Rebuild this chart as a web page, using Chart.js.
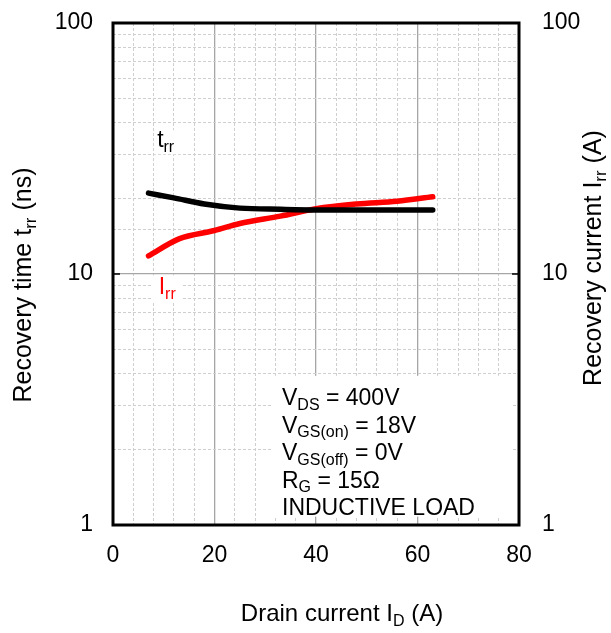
<!DOCTYPE html>
<html>
<head>
<meta charset="utf-8">
<script src="https://cdn.jsdelivr.net/npm/chart.js@4"></script>
<style>
  html, body { margin: 0; padding: 0; background: #fff; }
  canvas { display: block; }
</style>
</head>
<body>
<canvas id="chart" width="611" height="633"></canvas>
<script>
// values
var trrCurrent = [7, 12, 18, 25, 33, 40, 50, 63]          // A
var trrValues = [21, 20.1, 19, 18.3, 18.1, 18, 18, 18]     // ns
var irrCurrent = [7, 13, 20, 25, 33, 40, 48, 56, 63]      // A
var irrValues = [11.8, 13.8, 14.9, 15.9, 17, 18.2, 19, 19.5, 20.3]  // A
var xTicks = [0, 20, 40, 60, 80]
var yTicks = [1, 10, 100]

// test conditions: [text, subscript, text]
var conditions = [
  ['V', 'DS', ' = 400V'],
  ['V', 'GS(on)', ' = 18V'],
  ['V', 'GS(off)', ' = 0V'],
  ['R', 'G', ' = 15\u03A9'],
  ['INDUCTIVE LOAD']
]

var FONT = '"Liberation Sans", Arial, sans-serif'
var SIZE = 23
var SUB = 16

function pts(xs, ys) {
  return xs.map((x, i) => ({ x: x, y: ys[i] }))
}

function isDecade(v) {
  var l = Math.log10(v)
  return Math.abs(l - Math.round(l)) < 1e-9
}

// draw text with alternating subscripts, returns width
function subText(ctx, parts, x, y, size, subSize, dry) {
  var cx = x
  parts.forEach((p, i) => {
    var sub = i % 2 === 1
    ctx.font = (sub ? subSize : size) + 'px ' + FONT
    if (!dry) ctx.fillText(p, cx, sub ? y + size * 0.2 : y)
    cx += ctx.measureText(p).width
  })
  return cx - x
}

function vTitle(ctx, parts, x, y, size, subSize) {
  var w = subText(ctx, parts, 0, 0, size, subSize, true)
  ctx.save()
  ctx.translate(x, y)
  ctx.rotate(-Math.PI / 2)
  subText(ctx, parts, -w / 2, 0, size, subSize)
  ctx.restore()
}

var annotations = {
  id: 'annotations',
  beforeDatasetsDraw(chart) {
    var ctx = chart.ctx
    var xs = chart.scales.x, ys = chart.scales.y, y2 = chart.scales.y2
    ctx.save()
    // conditions box
    var bx = xs.getPixelForValue(31.5), bx2 = xs.getPixelForValue(78.8)
    var by = ys.getPixelForValue(3.93), by2 = ys.getPixelForValue(1.08)
    ctx.fillStyle = '#fff'
    ctx.fillRect(bx, by, bx2 - bx, by2 - by)
    // label backgrounds
    var lx = xs.getPixelForValue(9.0), ly = y2.getPixelForValue(8.3)
    ctx.fillRect(lx - 6, ly - 19, 29, 27)
    var tx = xs.getPixelForValue(8.7), ty = ys.getPixelForValue(32)
    ctx.fillRect(tx - 3, ty - 17, 28, 24)
    ctx.restore()
  },
  afterDatasetsDraw(chart) {
    var ctx = chart.ctx
    var xs = chart.scales.x, ys = chart.scales.y, y2 = chart.scales.y2
    var a = chart.chartArea
    ctx.save()
    ctx.textBaseline = 'alphabetic'
    ctx.textAlign = 'left'
    ctx.fillStyle = '#000'
    // curve labels
    subText(ctx, ['t', 'rr'], xs.getPixelForValue(8.7), ys.getPixelForValue(32), SIZE, SUB)
    ctx.fillStyle = '#ff0000'
    subText(ctx, ['I', 'rr'], xs.getPixelForValue(9.0), y2.getPixelForValue(8.3), SIZE, SUB)
    // conditions
    ctx.fillStyle = '#000'
    var cx = xs.getPixelForValue(33.3)
    var cy = ys.getPixelForValue(3.0)
    conditions.forEach((c, i) => {
      subText(ctx, c, cx, cy + i * 27.5, SIZE, SUB)
    })

    // frame
    ctx.strokeStyle = '#000'
    ctx.lineWidth = 3
    ctx.strokeRect(a.left, a.top, a.right - a.left, a.bottom - a.top)
    ctx.lineWidth = 1.5
    yTicks.forEach(v => {
      var p = ys.getPixelForValue(v)
      ctx.beginPath()
      ctx.moveTo(a.left, p); ctx.lineTo(a.left + 7, p)
      ctx.moveTo(a.right, p); ctx.lineTo(a.right - 7, p)
      ctx.stroke()
    })

    // axis titles
    ctx.fillStyle = '#000'
    var xt = ['Drain current I', 'D', ' (A)']
    var w = subText(ctx, xt, 0, 0, 24, 16, true)
    subText(ctx, xt, 342 - w / 2, 621, 24, 16)

    vTitle(ctx, ['Recovery time t', 'rr', ' (ns)'], 31, 285, 25, 17)
    vTitle(ctx, ['Recovery current I', 'rr', ' (A)'], 601, 258, 25, 17)
    ctx.restore()
  }
}

function fitSide(width) {
  return function (s) {
    s.width = width
    s.paddingTop = 0
    s.paddingBottom = 0
  }
}

var ctx = document.getElementById('chart')
var myChart = new Chart(ctx, {
  type: 'line',
  data: {
    datasets: [
      {
        label: 'trr',
        data: pts(trrCurrent, trrValues),
        yAxisID: 'y',
        borderColor: '#000',
        borderWidth: 5.5,
        borderCapStyle: 'round',
        cubicInterpolationMode: 'monotone',
        pointRadius: 0,
        fill: false
      },
      {
        label: 'Irr',
        data: pts(irrCurrent, irrValues),
        yAxisID: 'y2',
        borderColor: '#ff0000',
        borderWidth: 5.5,
        borderCapStyle: 'round',
        cubicInterpolationMode: 'monotone',
        pointRadius: 0,
        fill: false
      }
    ]
  },
  options: {
    responsive: false,
    animation: false,
    layout: { padding: { top: 23, left: 0, right: 0, bottom: 0 } },
    plugins: { legend: { display: false }, tooltip: { enabled: false } },
    scales: {
      x: {
        type: 'linear',
        min: 0, max: 80,
        afterFit(s) { s.height = 108; s.paddingLeft = 0; s.paddingRight = 0 },
        border: {
          display: false,
          dash: c => (c.tick && c.tick.value % 20 === 0) ? [] : [3, 2]
        },
        grid: {
          drawTicks: false,
          color: c => (c.tick && c.tick.value % 20 === 0) ? '#a6a6a6' : '#cfcfcf',
          lineWidth: c => (c.tick && c.tick.value % 20 === 0) ? 1.3 : 1
        },
        ticks: {
          stepSize: 4,
          autoSkip: false,
          maxRotation: 0,
          padding: 17,
          color: '#000',
          font: { family: FONT, size: SIZE },
          callback: v => xTicks.includes(v) ? String(v) : ''
        }
      },
      y: {
        type: 'logarithmic',
        position: 'left',
        min: 1, max: 100,
        afterFit: fitSide(113),
        border: {
          display: false,
          dash: c => (c.tick && isDecade(c.tick.value)) ? [] : [3, 2]
        },
        grid: {
          drawTicks: false,
          color: c => (c.tick && isDecade(c.tick.value)) ? '#a6a6a6' : '#cfcfcf',
          lineWidth: c => (c.tick && isDecade(c.tick.value)) ? 1.3 : 1
        },
        ticks: {
          autoSkip: false,
          padding: 20,
          color: '#000',
          font: { family: FONT, size: SIZE },
          callback: v => yTicks.includes(v) ? String(v) : ''
        }
      },
      y2: {
        type: 'logarithmic',
        position: 'right',
        min: 1, max: 100,
        afterFit: fitSide(92),
        border: { display: false },
        grid: { drawOnChartArea: false, drawTicks: false },
        ticks: {
          autoSkip: false,
          padding: 23,
          color: '#000',
          font: { family: FONT, size: SIZE },
          callback: v => yTicks.includes(v) ? String(v) : ''
        }
      }
    }
  },
  plugins: [annotations]
});
</script>
</body>
</html>
